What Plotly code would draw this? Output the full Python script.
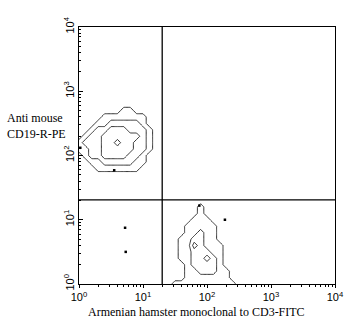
import math
import plotly.graph_objects as go

# ---- data (log10 units) ----
decades = [0, 1, 2, 3, 4]
tick_text = ["10<sup>0</sup>", "10<sup>1</sup>", "10<sup>2</sup>", "10<sup>3</sup>", "10<sup>4</sup>"]
quad_x = 1.30
quad_y = 1.31

# population 1 (CD19+), density levels as digit rows, bottom to top
pop1_x = [round(-0.1 + 0.1 * i, 2) for i in range(16)]
pop1_y = [round(1.5 + 0.1 * i, 2) for i in range(14)]
pop1_rows = [
    "0000000000000000",
    "0000000000000000",
    "0000000000000000",
    "0000111111100000",
    "0001122222110000",
    "0012233332210000",
    "0112233333221000",
    "0122233433221000",
    "0012233333321000",
    "0001223332221000",
    "0000112222210000",
    "0000011111110000",
    "0000000011000000",
    "0000000000000000",
]

# population 2 (CD3+)
pop2_x = [round(1.4 + 0.1 * i, 2) for i in range(13)]
pop2_y = [round(-0.1 + 0.1 * i, 2) for i in range(16)]
pop2_rows = [
    "0111111111100",
    "0111111111100",
    "0001111111000",
    "0001122211000",
    "0001222210000",
    "0011223210000",
    "0011222110000",
    "0011321110000",
    "0011221100000",
    "0001121100000",
    "0001111100000",
    "0000111000000",
    "0000010000000",
    "0000010000000",
    "0000000000000",
    "0000000000000",
]

# isolated events
dots_x = [0.72, 0.73, 0.55, 0.02, 2.28, 1.88]
dots_y = [0.875, 0.50, 1.77, 2.12, 1.00, 1.22]

x_title = "Armenian hamster monoclonal to CD3-FITC"
y_title = "Anti mouse<br>CD19-R-PE"


def to_z(rows):
    return [[int(c) for c in r] for r in rows]


fig = go.Figure()
for xs, ys, rows in [(pop1_x, pop1_y, pop1_rows), (pop2_x, pop2_y, pop2_rows)]:
    fig.add_trace(go.Contour(
        x=xs, y=ys, z=to_z(rows),
        contours=dict(start=0.5, end=3.5, size=1, coloring="none"),
        line=dict(color="black", width=0.8, smoothing=0),
        showscale=False, hoverinfo="skip",
    ))

fig.add_trace(go.Scatter(
    x=dots_x, y=dots_y, mode="markers",
    marker=dict(color="black", size=2.5, symbol="square"),
    hoverinfo="skip",
))

minor_vals = [d + math.log10(k) for d in decades[:-1] for k in range(2, 10)]

tick_font = dict(family="Liberation Sans, Arial", size=11, color="black")

fig.update_xaxes(
    range=[0, 4], tickvals=decades, ticktext=tick_text,
    showgrid=False, zeroline=False, showline=True, linecolor="black",
    linewidth=1, mirror=True, ticks="outside", ticklen=3, tickcolor="black",
    minor=dict(tickvals=minor_vals, ticks="outside", ticklen=2, tickcolor="black"),
    tickfont=tick_font,
)
fig.update_yaxes(
    range=[0, 4], tickvals=decades, ticktext=tick_text, tickangle=-90,
    showgrid=False, zeroline=False, showline=True, linecolor="black",
    linewidth=1, mirror=True, ticks="inside", ticklen=4, tickcolor="black",
    minor=dict(tickvals=minor_vals, ticks="inside", ticklen=2, tickcolor="black"),
    tickfont=tick_font,
)

fig.add_shape(type="line", xref="x", yref="paper", x0=quad_x, x1=quad_x, y0=0, y1=1,
              line=dict(color="black", width=1.3))
fig.add_shape(type="line", xref="paper", yref="y", x0=0, x1=1, y0=quad_y, y1=quad_y,
              line=dict(color="black", width=1.3))

title_font = dict(family="Liberation Serif, Times New Roman", size=12, color="black")
fig.add_annotation(text=x_title, xref="paper", yref="paper", x=0.46, y=-0.074,
                   xanchor="center", yanchor="top", showarrow=False, font=title_font)
fig.add_annotation(text=y_title, xref="paper", yref="paper", x=-0.29, y=0.615,
                   xanchor="left", yanchor="middle", align="left", showarrow=False,
                   font=title_font)

fig.update_layout(
    width=356, height=329,
    margin=dict(l=79, r=21, t=27, b=45),
    paper_bgcolor="white", plot_bgcolor="white",
    showlegend=False,
)

fig.write_html("out.html")
